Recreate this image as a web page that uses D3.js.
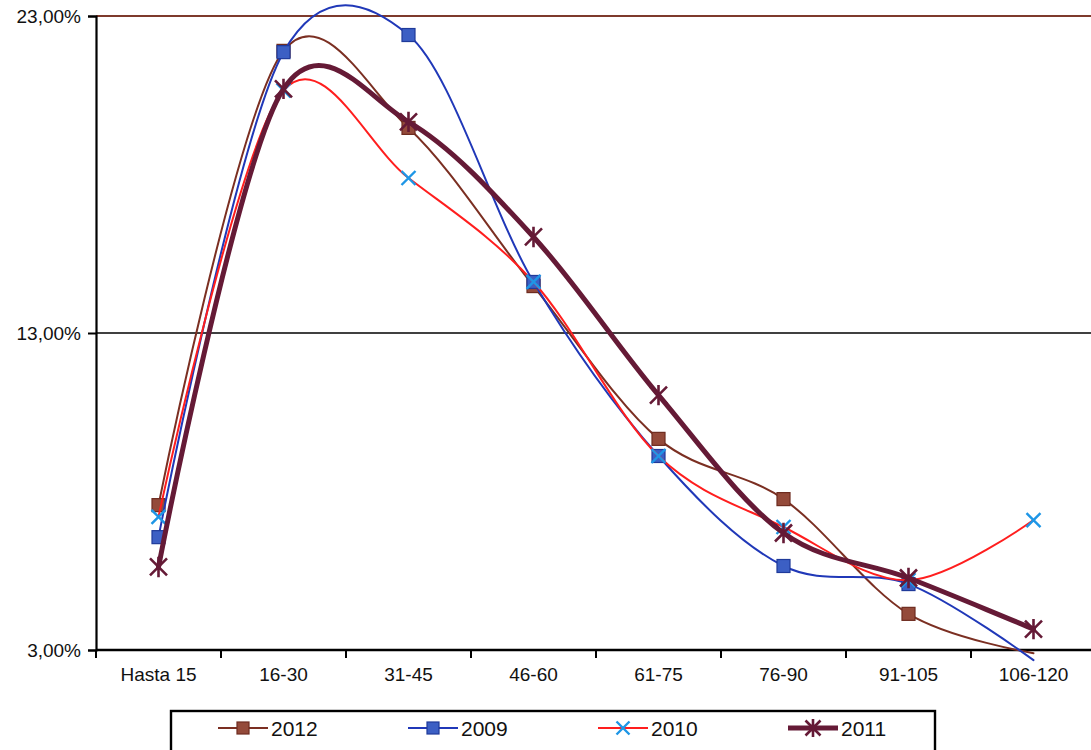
<!DOCTYPE html>
<html>
<head>
<meta charset="utf-8">
<script src="https://cdn.jsdelivr.net/npm/d3@7"></script>
<style>
  html, body { margin: 0; padding: 0; background: #ffffff; }
  svg { display: block; font-family: "Liberation Sans", Arial, sans-serif; }
</style>
</head>
<body>
<svg id="chart" width="1091" height="750"></svg>
<script>
// ---- data ----
const categories = ["Hasta 15", "16-30", "31-45", "46-60", "61-75", "76-90", "91-105", "106-120"];
const seriesNames = ["2012", "2009", "2010", "2011"];
const values2012 = [7.57, 21.9, 19.47, 14.48, 9.66, 7.76, 4.14, 2.9];
const values2009 = [6.56, 21.86, 22.40, 14.61, 9.12, 5.65, 5.08, 2.68];
const values2010 = [7.20, 20.65, 17.89, 14.61, 9.12, 6.88, 5.2, 7.10];
const values2011 = [5.62, 20.70, 19.66, 16.03, 11.04, 6.69, 5.27, 3.66];
const yTicks = [3, 13, 23];

(function () {
// ---- styles ----
const styles = {
  "2012": { line: "#7b2f22", width: 2, marker: "square", fill: "#944a3a", stroke: "#6e2c20" },
  "2009": { line: "#2038b8", width: 2, marker: "square", fill: "#3c5fc4", stroke: "#1f3a9a" },
  "2010": { line: "#ff1e1e", width: 2, marker: "x", fill: "none", stroke: "#1e96e6" },
  "2011": { line: "#651a36", width: 5, marker: "star", fill: "none", stroke: "#651a36" }
};
const seriesData = { "2012": values2012, "2009": values2009, "2010": values2010, "2011": values2011 };

const svg = d3.select("#chart");
const pLeft = 96, pRight = 1096, pTop = 16, pBottom = 650;

const x = d3.scaleBand().domain(categories).range([pLeft, pRight]).padding(0);
const cx = c => x(c) + x.bandwidth() / 2;
const y = d3.scaleLinear().domain([3, 23]).range([pBottom, pTop]);

const loc = d3.formatLocale({ decimal: ",", thousands: ".", grouping: [3], currency: ["", "€"] });
const fmt = v => loc.format(".2f")(v) + "%";

// gridline at 13%
svg.append("line")
  .attr("x1", pLeft).attr("x2", 1091)
  .attr("y1", y(13)).attr("y2", y(13))
  .attr("stroke", "#000").attr("stroke-width", 1.6);
// top border
svg.append("line")
  .attr("x1", pLeft).attr("x2", 1091)
  .attr("y1", y(23)).attr("y2", y(23))
  .attr("stroke", "#7e3a2c").attr("stroke-width", 2);

// y axis
const yAxis = d3.axisLeft(y).tickValues(yTicks).tickFormat(fmt).tickSize(8).tickPadding(7);
const gy = svg.append("g").attr("transform", `translate(${pLeft},0)`).call(yAxis);
gy.select(".domain").attr("stroke", "#000").attr("stroke-width", 2.2);
gy.selectAll(".tick line").attr("stroke", "#000").attr("stroke-width", 2);
gy.selectAll(".tick text").attr("font-size", 19).attr("fill", "#111")
  .attr("font-family", "'Liberation Sans', Arial, sans-serif");

// x axis
const xAxis = d3.axisBottom(x).tickSize(0).tickPadding(18);
const gx = svg.append("g").attr("transform", `translate(0,${pBottom})`).call(xAxis);
gx.select(".domain").remove();
svg.append("line").attr("x1", pLeft).attr("x2", 1091).attr("y1", pBottom).attr("y2", pBottom)
  .attr("stroke", "#000").attr("stroke-width", 2.4);
gx.selectAll(".tick text").attr("font-size", 19).attr("fill", "#111")
  .attr("font-family", "'Liberation Sans', Arial, sans-serif");
// category boundary ticks
svg.append("g").selectAll("line")
  .data(categories)
  .join("line")
  .attr("x1", d => x(d)).attr("x2", d => x(d))
  .attr("y1", pBottom).attr("y2", pBottom + 8)
  .attr("stroke", "#000").attr("stroke-width", 2);

// markers
function drawMarker(g, type, st, px, py, s) {
  if (type === "square") {
    g.append("rect").attr("x", px - s / 2).attr("y", py - s / 2).attr("width", s).attr("height", s)
      .attr("fill", st.fill).attr("stroke", st.stroke).attr("stroke-width", 1.2);
  } else if (type === "x") {
    const h = s / 2;
    g.append("path").attr("d", `M${px - h},${py - h}L${px + h},${py + h}M${px - h},${py + h}L${px + h},${py - h}`)
      .attr("stroke", st.stroke).attr("stroke-width", 2.4).attr("fill", "none");
  } else if (type === "star") {
    const h = s / 2;
    g.append("path").attr("d", `M${px - h},${py - h}L${px + h},${py + h}M${px - h},${py + h}L${px + h},${py - h}M${px},${py - h * 1.2}L${px},${py + h * 1.2}`)
      .attr("stroke", st.stroke).attr("stroke-width", 2.6).attr("fill", "none");
  }
}

const line = d3.line().curve(d3.curveCatmullRom.alpha(0.1));

seriesNames.forEach(name => {
  const st = styles[name];
  const vals = seriesData[name];
  const g = svg.append("g");
  const pts = categories.map((c, i) => [cx(c), y(vals[i])]);
  g.append("path").attr("d", line(pts)).attr("fill", "none")
    .attr("stroke", st.line).attr("stroke-width", st.width)
    .attr("stroke-linejoin", "round").attr("stroke-linecap", "round");
  categories.forEach((c, i) => {
    if (vals[i] < 3) return;
    drawMarker(g, st.marker, st, cx(c), y(vals[i]), st.marker === "star" ? 17 : (st.marker === "x" ? 14 : 13));
  });
});

// legend
const lg = svg.append("g");
lg.append("rect").attr("x", 171).attr("y", 711).attr("width", 764).attr("height", 60)
  .attr("fill", "#fff").attr("stroke", "#000").attr("stroke-width", 2.4);
const legendX = d3.scalePoint().domain(seriesNames).range([218, 788]);
seriesNames.forEach(name => {
  const st = styles[name];
  const lx = legendX(name);
  const ly = 728;
  lg.append("line").attr("x1", lx).attr("x2", lx + 50).attr("y1", ly).attr("y2", ly)
    .attr("stroke", st.line).attr("stroke-width", st.width);
  drawMarker(lg, st.marker, st, lx + 25, ly, st.marker === "star" ? 15 : (st.marker === "x" ? 13 : 12));
  lg.append("text").attr("x", lx + 53).attr("y", ly).attr("dy", "0.36em")
    .attr("font-size", 21).attr("fill", "#111").text(name);
});
})();
</script>
</body>
</html>
